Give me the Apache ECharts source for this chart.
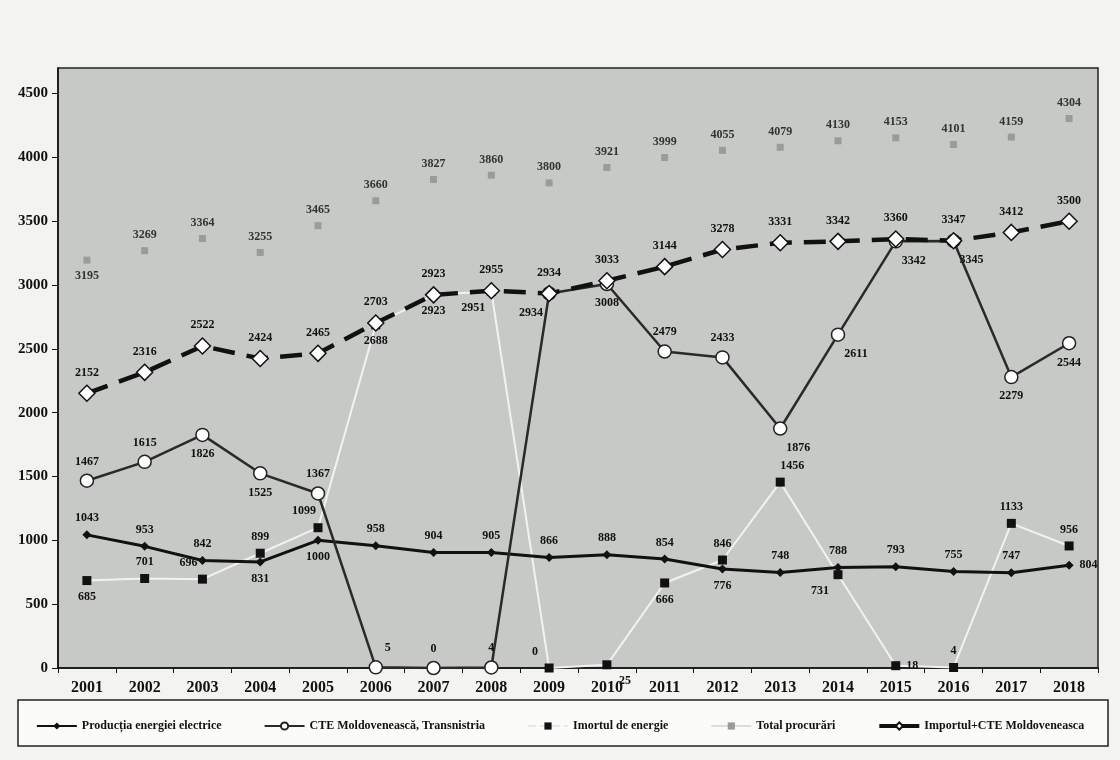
<!DOCTYPE html>
<html>
<head>
<meta charset="utf-8">
<script src="https://cdn.jsdelivr.net/npm/echarts@6/dist/echarts.min.js"></script>
<style>
html,body{margin:0;padding:0;background:#f3f3f1;}
#c{width:1120px;height:760px;}
</style>
</head>
<body>
<div id="c"></div>
<script>
const years = ['2001','2002','2003','2004','2005','2006','2007','2008','2009','2010','2011','2012','2013','2014','2015','2016','2017','2018'];
const productie = [1043,953,842,831,1000,958,904,905,866,888,854,776,748,788,793,755,747,804];
const cte = [1467,1615,1826,1525,1367,5,0,4,2934,3008,2479,2433,1876,2611,3342,3345,2279,2544];
const importul = [685,701,696,899,1099,2688,2923,2951,0,25,666,846,1456,731,18,4,1133,956];
const totalProcurari = [3195,3269,3364,3255,3465,3660,3827,3860,3800,3921,3999,4055,4079,4130,4153,4101,4159,4304];
const importCte = [2152,2316,2522,2424,2465,2703,2923,2955,2934,3033,3144,3278,3331,3342,3360,3347,3412,3500];
const yTicks = [0,500,1000,1500,2000,2500,3000,3500,4000,4500];
const seriesNames = ['Producția energiei electrice','CTE Moldovenească, Transnistria','Imortul de energie','Total procurări','Importul+CTE Moldoveneasca'];

// label placement (layout only)
const prodPos = ['t','t','t','b','b','t','t','t','t','t','t','b','t','t','t','t','t','r'];
const ctePos = ['t','t','b','b','t','tr','t','t','bl','b','t','t','br','br','br','br','b','b'];
const importPos = ['b','t','tl','t','tl','b','b','bl','tl','br','b','t','tr','bl','r','t','t','t'];
const totalPos = ['b','t','t','t','t','t','t','t','t','t','t','t','t','t','t','t','t','t'];
const icPos = years.map(()=> 't');

function lbl(p){
  switch(p){
    case 't': return {position:'top'};
    case 'b': return {position:'bottom'};
    case 'r': return {position:'right'};
    case 'l': return {position:'left'};
    case 'tl': return {position:'top', offset:[-14,0]};
    case 'tr': return {position:'top', offset:[12,0]};
    case 'bl': return {position:'bottom', offset:[-18,0]};
    case 'br': return {position:'bottom', offset:[18,0]};
  }
}
function mk(vals,pos){ return vals.map((v,i)=>({value:v, label:lbl(pos[i])})); }

const font = '"Liberation Serif","DejaVu Serif",serif';
const labelBase = {show:true, fontFamily:font, fontWeight:'bold', fontSize:12, color:'#111', distance:6};

const chart = echarts.init(document.getElementById('c'));
chart.setOption({
  backgroundColor:'#f3f3f1',
  animation:false,
  graphic:[{type:'rect', shape:{x:18,y:700,width:1090,height:46}, style:{fill:'#fbfbfa', stroke:'#222', lineWidth:1.5}, z:-1}],
  grid:{left:58, right:22, top:68, bottom:92, show:true, backgroundColor:'#c6c9c5', borderColor:'#222', borderWidth:1.5},
  legend:{
    top:715, left:'center', itemGap:42, itemWidth:40, itemHeight:9,
    textStyle:{fontFamily:font, fontWeight:'bold', fontSize:12, color:'#111'},
    data:[
      {name:seriesNames[0]},
      {name:seriesNames[1]},
      {name:seriesNames[2], lineStyle:{color:'#e8e8e8', type:'dashed', width:2}},
      {name:seriesNames[3], lineStyle:{color:'#dddddd', width:2, opacity:1}},
      {name:seriesNames[4], lineStyle:{color:'#111', width:4, type:'solid'}}
    ]
  },
  xAxis:{
    type:'category', data:years, boundaryGap:true,
    axisLine:{lineStyle:{color:'#111', width:1.5}},
    axisTick:{show:true, inside:false, length:5, lineStyle:{color:'#111'}},
    axisLabel:{fontFamily:font, fontWeight:'bold', fontSize:16, color:'#111', margin:12}
  },
  yAxis:{
    type:'value', min:0, max:4700, interval:500,
    splitLine:{show:false},
    axisLine:{show:true, lineStyle:{color:'#111', width:1.5}},
    axisTick:{show:true, length:6, customValues:yTicks, lineStyle:{color:'#111'}},
    axisLabel:{fontFamily:font, fontWeight:'bold', fontSize:15, color:'#111', customValues:yTicks, margin:10, formatter:(v)=>String(v)}
  },
  series:[
    {
      name:seriesNames[0], type:'line', data:mk(productie,prodPos),
      symbol:'diamond', symbolSize:9, itemStyle:{color:'#111'},
      lineStyle:{color:'#111', width:3}, label:labelBase, z:3
    },
    {
      name:seriesNames[1], type:'line', data:mk(cte,ctePos),
      symbol:'circle', symbolSize:13, itemStyle:{color:'#fff', borderColor:'#222', borderWidth:1.5},
      lineStyle:{color:'#2a2a2a', width:2.5}, label:labelBase, z:4
    },
    {
      name:seriesNames[2], type:'line', data:mk(importul,importPos),
      symbol:'rect', symbolSize:9, itemStyle:{color:'#111'},
      lineStyle:{color:'#f2f2f2', width:2}, label:labelBase, z:2
    },
    {
      name:seriesNames[3], type:'line', data:mk(totalProcurari,totalPos),
      symbol:'rect', symbolSize:7, itemStyle:{color:'#9a9c98'},
      lineStyle:{opacity:0}, label:Object.assign({}, labelBase, {color:'#333'}), z:2
    },
    {
      name:seriesNames[4], type:'line', data:mk(importCte,icPos),
      symbol:'diamond', symbolSize:16, itemStyle:{color:'#fff', borderColor:'#111', borderWidth:1.5},
      lineStyle:{color:'#111', width:4.5, type:[22,12]}, label:labelBase, z:5
    }
  ]
});
</script>
</body>
</html>
